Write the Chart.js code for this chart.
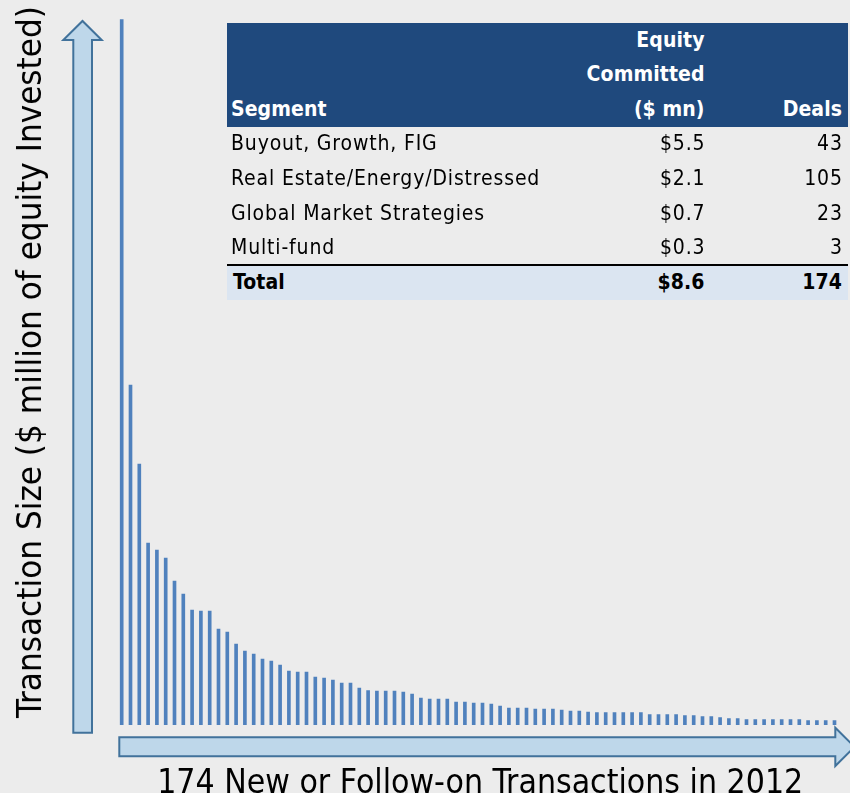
<!DOCTYPE html>
<html><head><meta charset="utf-8">
<script src="https://cdn.jsdelivr.net/npm/chart.js@4.4.1/dist/chart.umd.min.js"></script>
<style>
html,body{margin:0;padding:0;background:#ececec;width:850px;height:793px;overflow:hidden;}
#wrap{position:relative;width:850px;height:793px;}
#c{position:absolute;left:0;top:0;}
.box{position:absolute;}
.t{position:absolute;white-space:nowrap;font-family:"DejaVu Sans Condensed","DejaVu Sans",sans-serif;color:#000;}
</style></head>
<body><div id="wrap"><canvas id="c" width="850" height="793"></canvas></div>
<script>
// ---- data ----
const transactionSizes = [706,340,261,182,175,167,144,131,115,114,114,96,93,81,74,71,66,64,60,54,53,53,48,47,45,42,42,37,
  34.5,34,34,34,33,31,27,26,26,26,23,23,22,22,21,19,17,17,17,16,16,16,15,14,14,13,
  12.5,12.5,12.5,12.5,12.5,12.5,10.5,10.5,10.5,10.5,9.5,9.5,8.5,8.5,7.5,6.5,6.5,5.5,5.5,5.5,5.5,5.5,5.5,5.5,4.5,4.5,4.5,4.5];
const transactionLabels = transactionSizes.map((v, i) => String(i + 1));
const headerLines = [["", "Equity", ""], ["", "Committed", ""], ["Segment", "($ mn)", "Deals"]];
const segments = ["Buyout, Growth, FIG", "Real Estate/Energy/Distressed", "Global Market Strategies", "Multi-fund"];
const equityCommitted = ["$5.5", "$2.1", "$0.7", "$0.3"];
const deals = ["43", "105", "23", "3"];
const totalRow = ["Total", "$8.6", "174"];
const yTitle = "Transaction Size ($ million of equity Invested)";
const xTitle = "174 New or Follow-on Transactions in 2012";

// ---- layout ----
const wrap = document.getElementById('wrap');
function box(l, t, w, h, bg) {
  const d = document.createElement('div'); d.className = 'box';
  Object.assign(d.style, {left: l + 'px', top: t + 'px', width: w + 'px', height: h + 'px', background: bg});
  wrap.appendChild(d); return d;
}
box(227, 23.3, 621, 103.5, '#1f497d');
box(227, 266, 621, 34, '#dbe5f1');
box(227, 263.5, 621, 2.5, '#000');

const F = 21; // table font size
function txt(s, x, baseline, align, bold, color, size, ls) {
  const d = document.createElement('div'); d.className = 't'; d.textContent = s;
  const fs = size || F;
  const sp = (ls === undefined ? (bold ? 0.1 : 0.85) : ls);
  d.style.fontSize = fs + 'px'; d.style.lineHeight = fs + 'px';
  d.style.fontWeight = bold ? 'bold' : 'normal'; d.style.color = color || '#000';
  d.style.letterSpacing = sp + 'px';
  d.style.top = (baseline - 0.846 * fs) + 'px';
  if (align === 'right') d.style.right = (850 - x - sp) + 'px'; else d.style.left = x + 'px';
  wrap.appendChild(d); return d;
}
const colX = [231, 704.5, 842];
const base0 = 47.3, step = 34.6;
headerLines.forEach((row, r) => {
  row.forEach((s, c) => { if (s) txt(s, colX[c], base0 + step * r, c === 0 ? 'left' : 'right', true, '#fff'); });
});
segments.forEach((s, i) => {
  const b = base0 + step * (3 + i);
  txt(s, colX[0], b, 'left', false);
  txt(equityCommitted[i], colX[1], b, 'right', false);
  txt(deals[i], colX[2], b, 'right', false);
});
totalRow.forEach((s, c) => txt(s, colX[c] + (c === 0 ? 2 : 0), base0 + step * 7, c === 0 ? 'left' : 'right', true));

// axis titles
const TF = 34;
const yt = txt(yTitle, 0, 0, 'left', false, '#000', TF, 0);
const xt = txt(xTitle, 0, 0, 'left', false, '#000', TF, 0);
function fitTitle(el, targetW, cx, cy, rot) {
  const w = el.getBoundingClientRect().width;
  const k = targetW / w;
  el.style.left = (cx - w / 2) + 'px';
  el.style.top = (cy - TF / 2) + 'px';
  el.style.transformOrigin = 'center center';
  el.style.transform = (rot ? 'rotate(-90deg) ' : '') + 'scaleX(' + k + ')';
}
fitTitle(yt, 712, 29, 361.5, true);
fitTitle(xt, 646, 480, 793 - 0.846 * TF + TF / 2, false);

// ---- arrows ----
const arrows = {
  id: 'arrows',
  beforeDatasetsDraw(chart) {
    const ctx = chart.ctx;
    ctx.save();
    ctx.fillStyle = '#bed7ea'; ctx.strokeStyle = '#41729b'; ctx.lineWidth = 2; ctx.lineJoin = 'miter';
    // vertical
    ctx.beginPath();
    ctx.moveTo(73.3, 732.7); ctx.lineTo(73.3, 40); ctx.lineTo(63.3, 40); ctx.lineTo(82.5, 21);
    ctx.lineTo(101.7, 40); ctx.lineTo(92, 40); ctx.lineTo(92, 732.7); ctx.closePath();
    ctx.fill(); ctx.stroke();
    // horizontal
    ctx.beginPath();
    ctx.moveTo(119.3, 737.3); ctx.lineTo(835.3, 737.3); ctx.lineTo(835.3, 727.7); ctx.lineTo(854.5, 746.8);
    ctx.lineTo(835.3, 766); ctx.lineTo(835.3, 756.3); ctx.lineTo(119.3, 756.3); ctx.closePath();
    ctx.fill(); ctx.stroke();
    ctx.restore();
  }
};

new Chart(document.getElementById('c'), {
  type: 'bar',
  data: { labels: transactionLabels,
    datasets: [{ data: transactionSizes, backgroundColor: '#4f81bd', borderWidth: 0, barThickness: 3 }] },
  options: {
    responsive: false, animation: false,
    layout: { padding: { left: 117.3, right: 11.1, top: 19.3, bottom: 68 } },
    scales: { x: { display: false }, y: { display: false, min: 0, max: 706 } },
    plugins: { legend: { display: false }, tooltip: { enabled: false } }
  },
  plugins: [arrows]
});
</script></body></html>
